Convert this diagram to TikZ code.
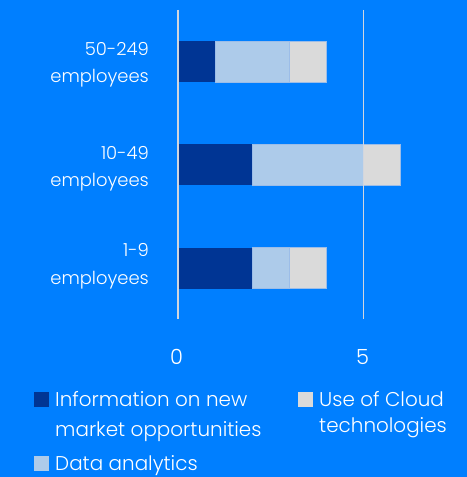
\documentclass[tikz,border=0pt]{standalone}
\usepackage{fontspec}
\IfFontExistsTF{Poppins Light}{\setmainfont{Poppins Light}}{\setmainfont{Poppins}}
\usetikzlibrary{positioning}

\definecolor{bgblue}{HTML}{007FFF}
\definecolor{infoblue}{HTML}{003594}
\definecolor{datablue}{HTML}{ADCBEA}
\definecolor{cloudgray}{HTML}{DADADA}
\definecolor{gridgray}{HTML}{D2D6DE}
\definecolor{edgeblue}{HTML}{9CBDE8}

\tikzset{
  catlabel/.style={text=white, font=\fontsize{18}{27.5}\selectfont, align=right, anchor=base east, inner sep=0pt},
  ticklabel/.style={text=white, font=\fontsize{21}{22}\selectfont, inner sep=0pt, anchor=base},
  legtext/.style={text=white, align=left, anchor=base west, inner sep=0pt},
  legbox/.style={minimum size=15bp, inner sep=0pt, anchor=north west},
  gridline/.style={draw=gridgray, line width=1.2bp},
  seg/.style={draw=edgeblue, line width=0.6bp}
}

\begin{document}
\begin{tikzpicture}[x=1bp,y=-1bp]
    \fill[bgblue] (0,0) rectangle (467,477);
    \useasboundingbox (0,0) rectangle (467,477);

    % bars: top / info / data / cloud
    \foreach \top/\a/\b/\c in {41/1/2/1, 144/2/3/1, 247.5/2/1/1}{
        \pgfmathsetmacro{\xa}{178+37*\a}
        \pgfmathsetmacro{\xb}{\xa+37*\b}
        \pgfmathsetmacro{\xc}{\xb+37*\c}
        \fill[infoblue] (178,\top) rectangle (\xa,\top+41);
        \filldraw[datablue,seg] (\xa,\top) rectangle (\xb,\top+41);
        \filldraw[cloudgray,seg] (\xb,\top) rectangle (\xc,\top+41);
    }

    % grid
    \coordinate (g0top) at (178,10);
    \coordinate (g0bot) at (178,319);
    \coordinate (g5top) at (363.5,10);
    \coordinate (g5bot) at (363.5,319);
    \draw[gridline] (g0top) -- (g0bot);
    \draw[gridline] (g5top) -- (g5bot);
    \node[ticklabel] (tick0) at (176.5,364) {0};
    \node[ticklabel] (tick5) at (362.5,364) {5};

    % categories
    \node[catlabel] (big) at (149,83) {50-249\\employees};
    \node[catlabel] (mid) at (149,186.5) {10-49\\employees};
    \node[catlabel] (small) at (149,284) {1-9\\employees};

    % legend
    \node[legbox,fill=infoblue] (infobox) at (34,392) {};
    \node[legbox,fill=cloudgray] (cloudbox) at (298,392) {};
    \node[legbox,fill=datablue] (databox) at (34,456) {};
    \node[legtext,font=\fontsize{20}{30}\selectfont] (infotxt) at (55,436.7) {Information on new\\market opportunities};
    \node[legtext,font=\fontsize{20}{26}\selectfont] (cloudtxt) at (319,432.7) {Use of Cloud\\technologies};
    \node[legtext,font=\fontsize{20}{26}\selectfont] (datatxt) at (55,470) {Data analytics};
\end{tikzpicture}
\end{document}
